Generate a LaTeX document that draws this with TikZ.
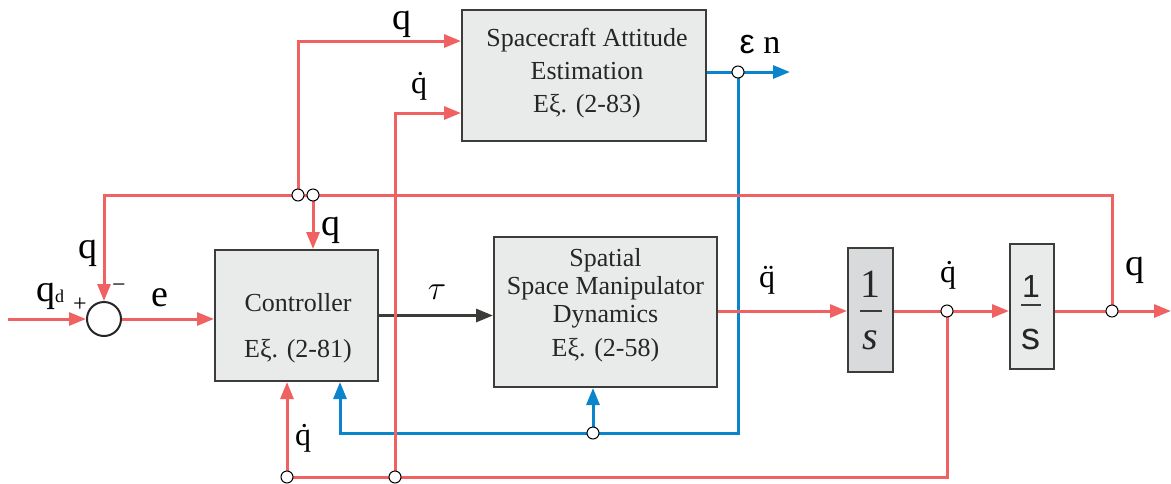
\documentclass[tikz,border=0pt]{standalone}
\usepackage{fix-cm}
\usepackage{fontspec}
\setmainfont{Liberation Serif}
\newfontfamily\sansf{Liberation Sans}
\usetikzlibrary{arrows.meta}
\definecolor{redc}{HTML}{F06262}
\definecolor{bluec}{HTML}{0A85CC}
\definecolor{boxc}{HTML}{3C3C3A}
\definecolor{boxfill}{HTML}{E9EAEA}
\definecolor{boxfilld}{HTML}{D9DADC}
\definecolor{darkc}{HTML}{3B3B37}
\newcommand\dq{q^^^^0307}
\newcommand\ddq{q^^^^0308}
\tikzset{
  box/.style={draw=boxc, line width=2pt, fill=boxfill, inner sep=0pt},
  boxtxt/.style={align=center, inner sep=0pt, text=black!85},
  rl/.style={draw=redc, line width=3pt},
  bl/.style={draw=bluec, line width=3pt},
  dk/.style={draw=darkc, line width=3pt},
  arr/.style={-{Triangle[length=17pt,width=13pt]}},
  jn/.style={circle, draw=black, fill=white, line width=1pt, minimum size=12pt, inner sep=0pt},
  lab/.style={inner sep=0pt, font=\fontsize{38}{38}\selectfont},
  labs/.style={inner sep=0pt, font=\fontsize{32}{32}\selectfont},
}
\begin{document}
\begin{tikzpicture}[x=1pt,y=-1pt]
\useasboundingbox (0,0) rectangle (1171,483);

% blocks
\node[box, minimum width=244pt, minimum height=131pt] (sae) at (584,75.5) {};
\node[boxtxt, font=\fontsize{26}{33}\selectfont] (saet) at (587,73) {Spacecraft Attitude\\Estimation\\Eξ. (2-83)};
\node[box, minimum width=163pt, minimum height=131pt] (ctrl) at (296.5,315.5) {};
\node[boxtxt, font=\fontsize{26}{46}\selectfont] (ctrlt) at (298,328) {Controller\\Eξ. (2-81)};
\node[box, minimum width=223pt, minimum height=150pt] (dyn) at (605.5,312) {};
\node[boxtxt, font=\fontsize{26}{28}\selectfont] (dynt) at (605.5,305) {Spatial\\Space Manipulator\\Dynamics\\[6pt]Eξ. (2-58)};
\node[box, fill=boxfilld, minimum width=45pt, minimum height=124pt] (int1) at (870.5,310) {};
\node[boxtxt, font=\fontsize{40}{40}\selectfont] (int1n) at (870.5,284) {1};
\node[boxtxt, font=\fontsize{40}{40}\selectfont\itshape] (int1d) at (870.5,340) {s};
\node[box, minimum width=44pt, minimum height=125pt] (int2) at (1032,306.5) {};
\node[boxtxt, font=\fontsize{32}{32}\selectfont\sansf] (int2n) at (1031,286) {1};
\node[boxtxt, font=\fontsize{38}{38}\selectfont\sansf] (int2d) at (1031,339) {s};
\draw[draw=boxc, line width=2pt] (859.5,311) -- (881.5,311);
\draw[draw=boxc, line width=2pt] (1021,305) -- (1041,305);
\node[circle, draw=black!85, line width=2pt, fill=white, minimum size=34pt, inner sep=0pt] (sum) at (104,319) {};

% junction coordinates
\coordinate (j1) at (298,195);
\coordinate (j2) at (313,195);
\coordinate (j3) at (738,72);
\coordinate (j4) at (593,433);
\coordinate (j5) at (947,311);
\coordinate (j6) at (1112,311);
\coordinate (j7) at (287,477);
\coordinate (j8) at (395,477);
\coordinate (in) at (8,319);
\coordinate (out) at (1171,311);
\coordinate (eout) at (790,72);
\coordinate (tl) at (104,195);
\coordinate (tr) at (1112,195);
\coordinate (c1) at (298,41);
\coordinate (c8) at (395,113);
\coordinate (c5) at (947,477);
\coordinate (b1) at (738,433);
\coordinate (b2) at (340,433);

% torque
\draw[dk, arr] (ctrl.east) -- (ctrl.east -| dyn.west);

% blue
\draw[bl] (sae.east |- j3) -- (j3);
\draw[bl, arr] (j3) -- (eout);
\draw[bl, arr] (j3) -- (b1) -- (b2) -- (b2 |- ctrl.south);
\draw[bl, arr] (j4) -- (j4 |- dyn.south);

% red
\draw[rl, arr] (in) -- (sum.west);
\draw[rl, arr] (sum.east) -- (sum.east -| ctrl.west);
\draw[rl, arr] (j6) -- (tr) -- (tl) -- (sum.north);
\draw[rl, arr] (j1) -- (c1) -- (c1 -| sae.west);
\draw[rl, arr] (j2) -- (j2 |- ctrl.north);
\draw[rl, arr] (dyn.east |- j5) -- (j5 -| int1.west);
\draw[rl] (int1.east |- j5) -- (j5);
\draw[rl, arr] (j5) -- (j5 -| int2.west);
\draw[rl] (int2.east |- j6) -- (j6);
\draw[rl, arr] (j6) -- (out);
\draw[rl] (j5) -- (c5) -- (j7);
\draw[rl, arr] (j7) -- (j7 |- ctrl.south);
\draw[rl, arr] (j8) -- (c8) -- (c8 -| sae.west);

% junction dots
\foreach \j in {j1,j2,j3,j4,j5,j6,j7,j8} \node[jn] (J\j) at (\j) {};

% labels
\node[lab] (lq1) at (402,24) {q};
\node[labs] (lqd1) at (419,86) {\dq};
\node[inner sep=0pt, font=\fontsize{34}{34}\selectfont] (leps) at (760,45) {{\sansf ε} n};
\node[lab] (lq2) at (88,253) {q};
\node[inner sep=0pt, font=\fontsize{24}{24}\selectfont] (lminus) at (119,288) {−};
\node[inner sep=0pt, font=\fontsize{24}{24}\selectfont] (lplus) at (80,305) {+};
\node[lab] (lqd) at (50,296) {q\raisebox{-1pt}{\fontsize{18}{18}\selectfont d}};
\node[lab] (le) at (160,298) {e};
\node[lab] (lq3) at (331,230) {q};
\node[inner sep=0pt, font=\fontsize{34}{34}\selectfont] (ltau) at (437,292) {$\tau$};
\node[labs] (lqdd) at (767,280) {\ddq};
\node[labs] (lqd2) at (948,275) {\dq};
\node[lab] (lq4) at (1135,270) {q};
\node[labs] (lqd3) at (303,438) {\dq};
\end{tikzpicture}
\end{document}
